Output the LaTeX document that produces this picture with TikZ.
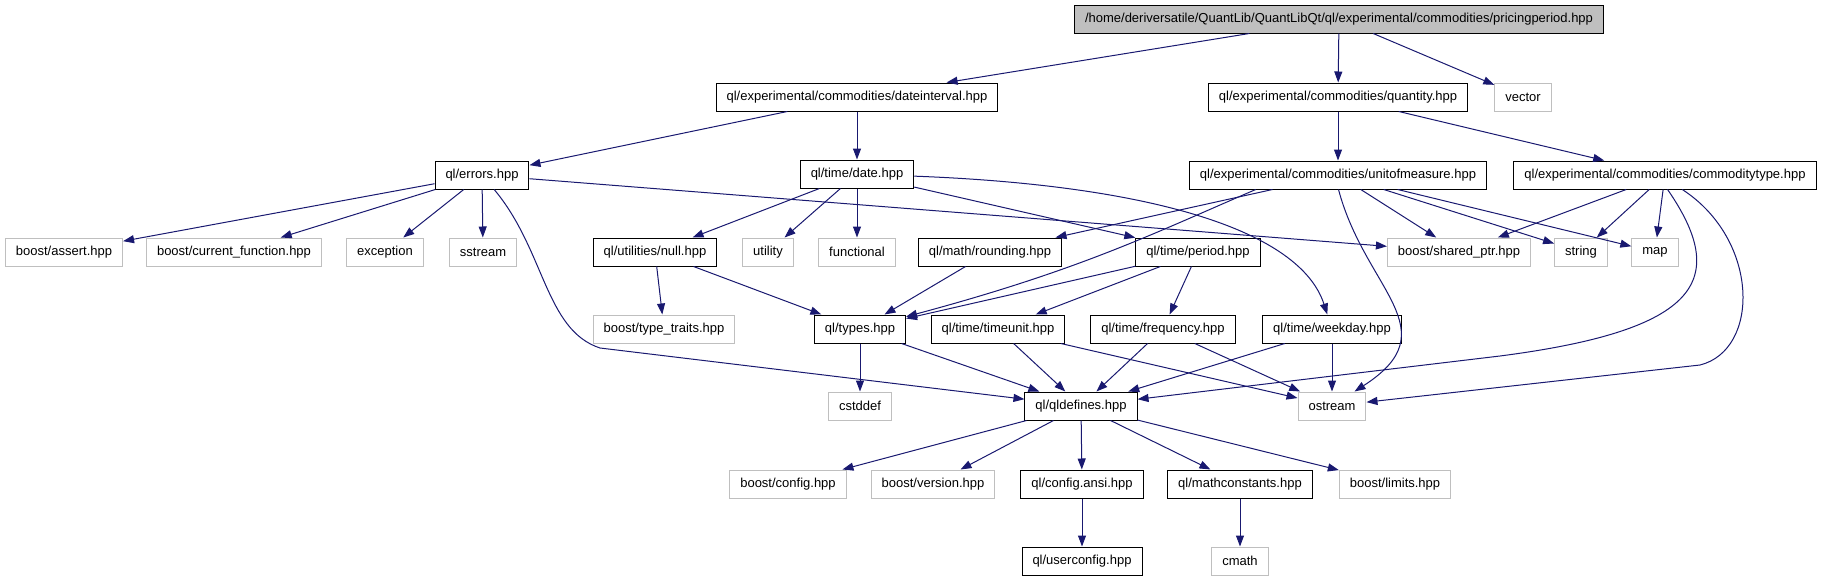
\documentclass[tikz,border=0pt]{standalone}
\usepackage{fontspec}
\setmainfont{Liberation Sans}
\usetikzlibrary{arrows.meta}
\definecolor{edgeblue}{HTML}{191970}
\definecolor{extgray}{HTML}{BFBFBF}
\definecolor{rootgray}{HTML}{BFBFBF}
\tikzset{
  incl/.style={
    draw = black,
    line width = 1pt,
    fill = white,
    minimum height = 28pt,
    inner xsep = 10.5pt,
    inner ysep = 0pt,
    font = \fontsize{13pt}{15pt}\selectfont
  },
  ext/.style={
    incl,
    draw = extgray
  },
  mainfile/.style={
    incl,
    fill = rootgray
  },
  dep/.style={
    draw = edgeblue,
    line width = 1pt,
    -{Triangle[length=11pt,width=8pt]}
  },
}

\begin{document}
\begin{tikzpicture}[x=1pt,y=-1pt]
  \useasboundingbox (0,0) rectangle (1824,581);
    \node[mainfile] (root) at (1339,19) {/home/deriversatile/QuantLib/QuantLibQt/ql/experimental/commodities/pricingperiod.hpp};
    \node[incl] (dateint) at (857,97) {ql/experimental/commodities/dateinterval.hpp};
    \node[incl] (quantity) at (1338,97) {ql/experimental/commodities/quantity.hpp};
    \node[ext] (vector) at (1523,97) {vector};
    \node[incl] (errors) at (482,175) {ql/errors.hpp};
    \node[incl] (date) at (857,174) {ql/time/date.hpp};
    \node[incl] (unitmeas) at (1338,175) {ql/experimental/commodities/unitofmeasure.hpp};
    \node[incl] (commtype) at (1665,175) {ql/experimental/commodities/commoditytype.hpp};
    \node[ext] (assert) at (64,252) {boost/assert.hpp};
    \node[ext] (curfunc) at (234,252) {boost/current\_function.hpp};
    \node[ext] (exception) at (385,252) {exception};
    \node[ext] (sstream) at (483,252) {sstream};
    \node[incl] (null) at (655,252) {ql/utilities/null.hpp};
    \node[ext] (utility) at (768,252) {utility};
    \node[ext] (functional) at (857,252) {functional};
    \node[incl] (rounding) at (990,252) {ql/math/rounding.hpp};
    \node[incl] (period) at (1198,252) {ql/time/period.hpp};
    \node[ext] (sharedptr) at (1459,252) {boost/shared\_ptr.hpp};
    \node[ext] (string) at (1581,252) {string};
    \node[ext] (map) at (1655,252) {map};
    \node[ext] (typetraits) at (664,329) {boost/type\_traits.hpp};
    \node[incl] (types) at (860,329) {ql/types.hpp};
    \node[incl] (timeunit) at (998,329) {ql/time/timeunit.hpp};
    \node[incl] (frequency) at (1163,329) {ql/time/frequency.hpp};
    \node[incl] (weekday) at (1332,329) {ql/time/weekday.hpp};
    \node[ext] (cstddef) at (860,406) {cstddef};
    \node[incl] (qldefines) at (1081,406) {ql/qldefines.hpp};
    \node[ext] (ostream) at (1332,406) {ostream};
    \node[ext] (bconfig) at (788,484) {boost/config.hpp};
    \node[ext] (bversion) at (933,484) {boost/version.hpp};
    \node[incl] (configansi) at (1082,484) {ql/config.ansi.hpp};
    \node[incl] (mathconst) at (1240,484) {ql/mathconstants.hpp};
    \node[ext] (blimits) at (1395,484) {boost/limits.hpp};
    \node[incl] (userconfig) at (1082,561) {ql/userconfig.hpp};
    \node[ext] (cmath) at (1240,561) {cmath};

    \draw[dep] (root) -- (dateint);
    \draw[dep] (root) -- (quantity);
    \draw[dep] (root) -- (vector);
    \draw[dep] (dateint) -- (errors);
    \draw[dep] (dateint) -- (date);
    \draw[dep] (quantity) -- (unitmeas);
    \draw[dep] (quantity) -- (commtype);
    \foreach \t in {assert,curfunc,exception,sstream,sharedptr}
      \draw[dep] (errors) -- (\t);
    \draw[dep] (errors) .. controls (545,250) and (545,330) .. (600,348) -- (qldefines);
    \foreach \t in {null,utility,functional,period}
      \draw[dep] (date) -- (\t);
    \draw[dep] (date) .. controls (1150,185) and (1300,230) .. (weekday);
    \foreach \t in {rounding,sharedptr,string,map}
      \draw[dep] (unitmeas) -- (\t);
    \draw[dep] (unitmeas.-170) .. controls (1150,235) and (1080,270) .. (types);
    \draw[dep] (unitmeas.-88) .. controls (1365,290) and (1450,330) .. (ostream);
    \foreach \t in {sharedptr,string,map}
      \draw[dep] (commtype) -- (\t);
    \draw[dep] (commtype.-80) .. controls (1730,280) and (1700,330) .. (1500,356) -- (qldefines);
    \draw[dep] (commtype.-40) .. controls (1760,240) and (1760,350) .. (1700,365) -- (ostream);
    \draw[dep] (null) -- (typetraits);
    \draw[dep] (null) -- (types);
    \draw[dep] (rounding) -- (types);
    \foreach \t in {types,timeunit,frequency}
      \draw[dep] (period) -- (\t);
    \draw[dep] (types) -- (cstddef);
    \foreach \s in {types,timeunit,frequency,weekday}
      \draw[dep] (\s) -- (qldefines);
    \foreach \s in {timeunit,frequency,weekday}
      \draw[dep] (\s) -- (ostream);
    \foreach \t in {bconfig,bversion,configansi,mathconst,blimits}
      \draw[dep] (qldefines) -- (\t);
    \draw[dep] (configansi) -- (userconfig);
    \draw[dep] (mathconst) -- (cmath);
\end{tikzpicture}
\end{document}
